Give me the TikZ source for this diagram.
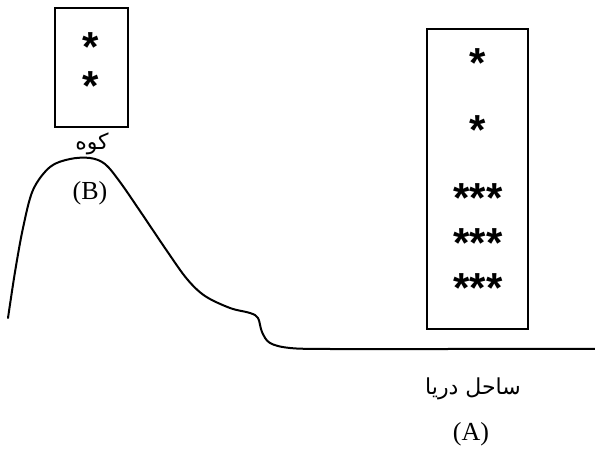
\documentclass[tikz,border=0pt]{standalone}
\usepackage{fontspec}
\setmainfont{Liberation Serif}
\newfontfamily\arabicfont[Script=Arabic]{DejaVu Sans}
\newfontfamily\starfont{Liberation Sans}
\TeXXeTstate=1
\tikzset{
  frame/.style={draw, line width=2pt, inner sep=0pt},
  stars/.style={font=\starfont\bfseries\fontsize{42}{42}\selectfont, inner sep=0pt, anchor=center},
  latin/.style={font=\fontsize{26}{26}\selectfont, inner sep=0pt},
  farsi/.style={font=\arabicfont\fontsize{22}{22}\selectfont, inner sep=0pt},
  ground/.style={line width=2pt, line join=round, line cap=round}
}
\begin{document}
\begin{tikzpicture}[x=1pt, y=-1pt]
\useasboundingbox (0,0) rectangle (595,449);
% left box (mountain)
\node[frame, minimum width=73pt, minimum height=119pt] (boxB) at (91.5,67.5) {};
\node[stars] (sB1) at (91,47) {*};
\node[stars] (sB2) at (91,86) {*};
% right box (coast)
\node[frame, minimum width=101pt, minimum height=300pt] (boxA) at (477.5,179) {};
\node[stars] (sA1) at (478,63) {*};
\node[stars] (sA2) at (478,130) {*};
\node[stars] (sA3) at (478,198) {***};
\node[stars] (sA4) at (478,243) {***};
\node[stars] (sA5) at (478,288) {***};
% labels
\node[farsi] (koh) at (92,144) {\beginR کوه\endR};
\node[latin] (B) at (90,193) {(B)};
\node[farsi] (sahel) at (473,389) {\beginR ساحل دریا\endR};
\node[latin] (A) at (471,434) {(A)};
% ground profile
\draw[ground] plot[smooth, tension=0.55] coordinates {
 (8,318) (15,272) (23,228) (33,190) (50,167) (70,159) (90,158) (105,164)
 (120,182) (140,211) (167,251) (187,279) (205,296) (230,308) (250,313)
 (258,318) (262,332) (270,343) (290,348) (330,349) (450,349) (595,349)};
\end{tikzpicture}
\end{document}
